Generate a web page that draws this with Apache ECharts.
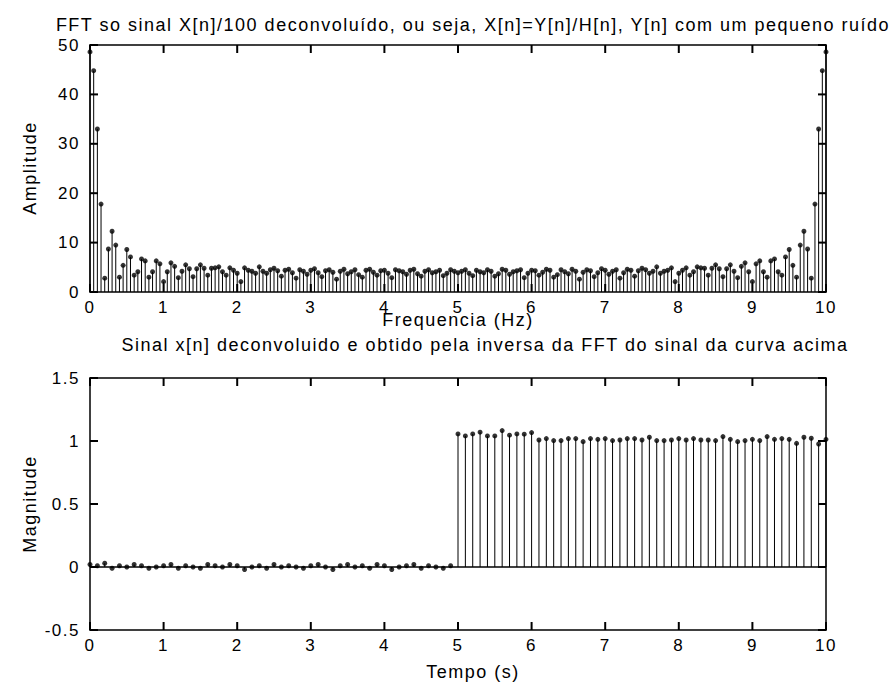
<!DOCTYPE html>
<html>
<head>
<meta charset="utf-8">
<script src="https://cdn.jsdelivr.net/npm/echarts@6/dist/echarts.min.js"></script>
<style>
html,body{margin:0;padding:0;background:#fff;}
#chart{width:892px;height:687px;}
#chart svg text{letter-spacing:1.5px;}
</style>
</head>
<body>
<div id="chart"></div>
<script>
// ---------- DATA ----------
// Top: FFT amplitude, frequencies 0..10 Hz step 0.05
const fftAmp = [
48.6,44.8,33.0,17.8,2.8,8.7,12.3,9.5,3.0,5.4,
8.6,7.1,3.4,4.1,6.7,6.3,3.0,4.1,6.3,5.7,
2.1,4.1,5.9,5.2,2.9,4.2,5.5,4.7,3.1,4.7,
5.5,4.8,3.4,4.8,4.9,5.1,4.1,3.4,4.9,4.4,
3.8,2.1,4.9,4.4,4.2,3.8,5.1,4.2,3.8,4.5,
4.8,4.3,3.2,4.4,4.6,3.9,2.8,4.5,4.2,3.6,
4.4,4.7,3.9,3.1,4.3,4.5,4.0,2.6,4.2,4.6,
3.7,4.1,4.5,3.5,3.0,4.4,4.6,4.0,3.4,4.3,
4.4,3.8,2.9,4.5,4.3,4.1,3.6,4.4,4.6,3.7,
3.2,4.2,4.5,3.9,4.1,4.4,3.3,3.8,4.5,4.2,
3.9,
4.2,4.5,3.8,3.3,4.4,4.1,3.9,4.5,4.2,3.2,
3.7,4.6,4.4,3.6,4.1,4.3,4.5,2.9,3.8,4.4,
4.3,3.4,4.0,4.6,4.4,3.0,3.5,4.5,4.1,3.7,
4.6,4.2,2.6,4.0,4.5,4.3,3.1,3.9,4.7,4.4,
3.6,4.2,4.5,2.8,3.9,4.6,4.4,3.2,4.3,4.8,
4.5,3.8,4.2,5.1,3.8,4.2,4.4,4.9,2.1,3.8,
4.4,4.9,3.4,4.1,5.1,4.9,4.8,3.4,4.8,5.5,
4.7,3.1,4.7,5.5,4.2,2.9,5.2,5.9,4.1,2.1,
5.7,6.3,4.1,3.0,6.3,6.7,4.1,3.4,7.1,8.6,
5.4,3.0,9.5,12.3,8.7,2.8,17.8,33.0,44.8,48.6
];
const fftStep = 0.05;

// Bottom: deconvolved signal x[n], t = 0..10 s step 0.1
const xSignal = [
0.02,0.01,0.03,-0.01,0.01,0.00,0.02,0.01,-0.01,0.00,
0.01,0.02,-0.01,0.01,0.00,-0.01,0.02,0.01,0.00,0.02,
0.01,-0.02,0.00,0.01,-0.01,0.02,0.00,0.01,0.00,-0.01,
0.01,0.02,0.00,-0.02,0.01,0.02,0.00,0.01,-0.01,0.02,
0.01,-0.02,0.00,0.01,0.02,-0.01,0.01,0.00,-0.01,0.01,
1.056,1.040,1.056,1.070,1.040,1.040,1.083,1.046,1.056,1.054,
1.067,1.008,1.019,1.003,1.003,1.019,1.019,0.995,1.019,1.013,
1.019,1.003,1.008,1.019,1.019,1.008,1.030,1.003,1.003,1.008,
1.019,1.008,1.019,1.008,1.008,1.003,1.035,1.013,0.995,1.003,
1.013,1.003,1.035,1.013,1.019,1.013,0.981,1.030,1.022,0.976,
1.013
];
const tStep = 0.1;

const xTicks = [0,1,2,3,4,5,6,7,8,9,10];
const topYTicks = [0,10,20,30,40,50];
const botYTicks = [-0.5,0,0.5,1,1.5];

const titleTop = 'FFT so sinal X[n]/100 deconvoluído, ou seja, X[n]=Y[n]/H[n], Y[n] com um pequeno ruído';
const titleBot = 'Sinal x[n] deconvoluido e obtido pela inversa da FFT do sinal da curva acima';

// ---------- BUILD ----------
const topData = fftAmp.map((v,i)=>[+(i*fftStep).toFixed(4), v]);
const botData = xSignal.map((v,i)=>[+(i*tStep).toFixed(4), v]);

const FONT = 'Liberation Sans, Arial, sans-serif';
const FS = 18;
const TFS = 17;
const TL = 8;   // tick length
const TW = 2;   // tick width

function stemRender(params, api){
  const x = api.value(0), y = api.value(1);
  const p0 = api.coord([x,0]);
  const p1 = api.coord([x,y]);
  return {type:'line', shape:{x1:p0[0],y1:p0[1],x2:p1[0],y2:p1[1]},
    style:{stroke:'#000', lineWidth:1}};
}

// inward tick marks: value(0)=x, value(1)=y, value(2)=side (0 bottom, 1 top, 2 left, 3 right)
function tickRender(params, api){
  const p = api.coord([api.value(0), api.value(1)]);
  const s = api.value(2);
  let r;
  if (s === 0) r = {x:p[0]-TW/2, y:p[1]-TL, width:TW, height:TL};
  else if (s === 1) r = {x:p[0]-TW/2, y:p[1], width:TW, height:TL};
  else if (s === 2) r = {x:p[0], y:p[1]-TW/2, width:TL, height:TW};
  else r = {x:p[0]-TL, y:p[1]-TW/2, width:TL, height:TW};
  return {type:'rect', shape:r, style:{fill:'#000'}};
}
function tickData(yTicks){
  const xmin = xTicks[0], xmax = xTicks[xTicks.length-1];
  const ymin = yTicks[0], ymax = yTicks[yTicks.length-1];
  return [].concat(
    xTicks.map(t=>[t,ymin,0]), xTicks.map(t=>[t,ymax,1]),
    yTicks.map(t=>[xmin,t,2]), yTicks.map(t=>[xmax,t,3]));
}

function xAx(gi, pos, showLabel){
  return {type:'value', gridIndex:gi, position:pos, min:xTicks[0], max:xTicks[xTicks.length-1], interval:1,
    axisLine:{show:true,onZero:false,lineStyle:{color:'#000',width:1.5}},
    axisTick:{show:false},
    axisLabel:{show:showLabel,color:'#000',fontFamily:FONT,fontSize:TFS,margin:7},
    splitLine:{show:false}};
}
function yAx(gi, pos, showLabel, mn, mx, step){
  return {type:'value', gridIndex:gi, position:pos, min:mn, max:mx, interval:step,
    axisLine:{show:true,onZero:false,lineStyle:{color:'#000',width:1.5}},
    axisTick:{show:false},
    axisLabel:{show:showLabel,color:'#000',fontFamily:FONT,fontSize:TFS,margin:10},
    splitLine:{show:false}};
}

const chart = echarts.init(document.getElementById('chart'), null, {renderer:'svg'});
chart.setOption({
  backgroundColor:'#fff',
  animation:false,
  grid:[
    {left:90, top:45, width:736, height:247},
    {left:90, top:378, width:736, height:252}
  ],
  xAxis:[
    xAx(0,'bottom',true), xAx(0,'top',false),
    xAx(1,'bottom',true), xAx(1,'top',false)
  ],
  yAxis:[
    yAx(0,'left',true,topYTicks[0],topYTicks[topYTicks.length-1],10),
    yAx(0,'right',false,topYTicks[0],topYTicks[topYTicks.length-1],10),
    yAx(1,'left',true,botYTicks[0],botYTicks[botYTicks.length-1],0.5),
    yAx(1,'right',false,botYTicks[0],botYTicks[botYTicks.length-1],0.5)
  ],
  graphic:[
    {type:'text', x:473, y:25, style:{text:titleTop, font:FS+'px '+FONT, fill:'#000', textAlign:'center', textVerticalAlign:'middle'}},
    {type:'text', x:458, y:320, style:{text:'Frequencia (Hz)', font:FS+'px '+FONT, fill:'#000', textAlign:'center', textVerticalAlign:'middle'}},
    {type:'text', x:485, y:345, style:{text:titleBot, font:FS+'px '+FONT, fill:'#000', textAlign:'center', textVerticalAlign:'middle'}},
    {type:'text', x:473, y:672, style:{text:'Tempo (s)', font:FS+'px '+FONT, fill:'#000', textAlign:'center', textVerticalAlign:'middle'}},
    {type:'text', x:30, y:168, rotation:Math.PI/2, style:{text:'Amplitude', font:FS+'px '+FONT, fill:'#000', textAlign:'center', textVerticalAlign:'middle'}},
    {type:'text', x:30, y:504, rotation:Math.PI/2, style:{text:'Magnitude', font:FS+'px '+FONT, fill:'#000', textAlign:'center', textVerticalAlign:'middle'}}
  ],
  series:[
    {type:'custom', xAxisIndex:0, yAxisIndex:0, data:tickData(topYTicks), renderItem:tickRender, clip:false, silent:true, z:5},
    {type:'custom', xAxisIndex:2, yAxisIndex:2, data:tickData(botYTicks), renderItem:tickRender, clip:false, silent:true, z:5},
    {type:'custom', xAxisIndex:0, yAxisIndex:0, data:topData, renderItem:stemRender, clip:false, silent:true},
    {type:'scatter', xAxisIndex:0, yAxisIndex:0, data:topData, symbol:'circle', symbolSize:5, itemStyle:{color:'#000'}, silent:true},
    {type:'custom', xAxisIndex:2, yAxisIndex:2, data:botData, renderItem:stemRender, clip:false, silent:true,
      markLine:{silent:true, symbol:'none', label:{show:false}, lineStyle:{color:'#000',width:1.5,type:'solid'}, data:[{yAxis:0}]}},
    {type:'scatter', xAxisIndex:2, yAxisIndex:2, data:botData, symbol:'circle', symbolSize:5, itemStyle:{color:'#000'}, silent:true}
  ]
});
</script>
</body>
</html>
